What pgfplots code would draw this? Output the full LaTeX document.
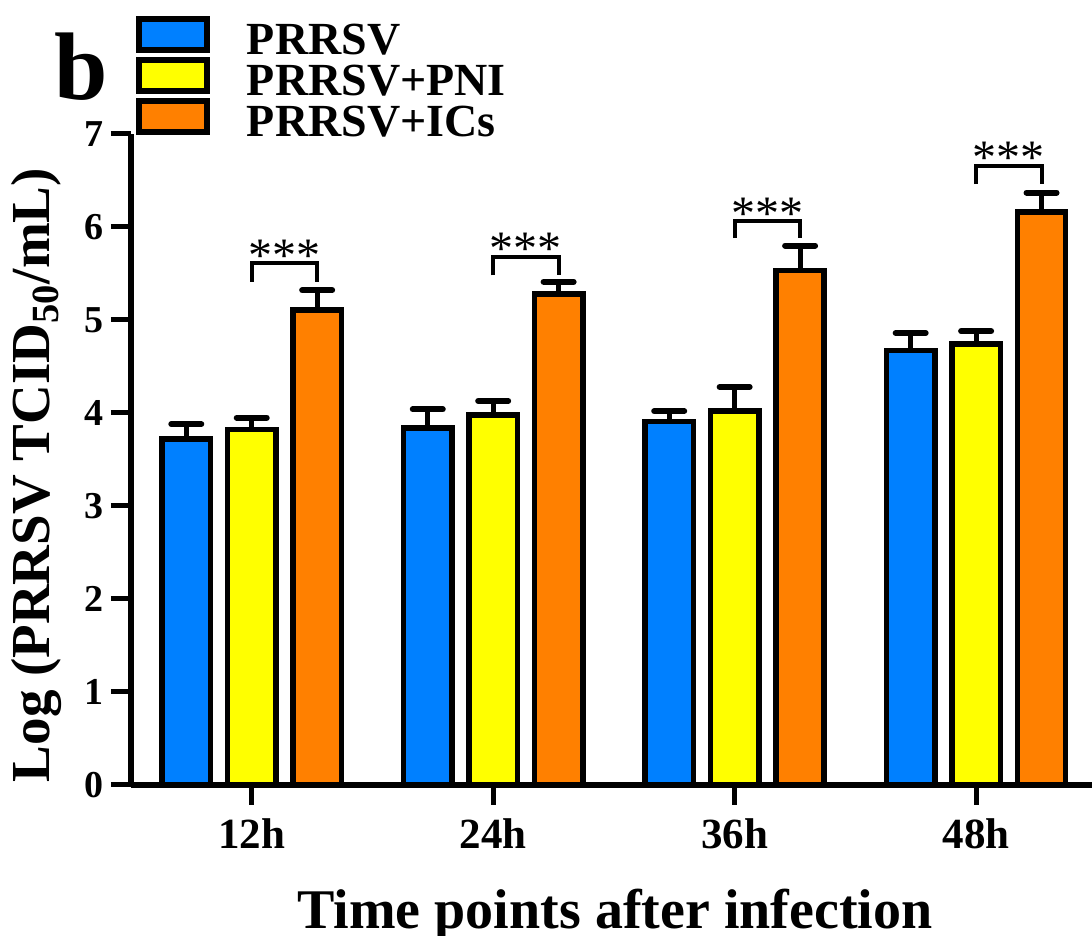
\documentclass[border=0pt]{standalone}
\usepackage{fontspec}
\setmainfont{Liberation Serif}
\usepackage{pgfplots}
\pgfplotsset{compat=1.18}
\definecolor{cblue}{RGB}{0,128,255}
\definecolor{cyellow}{RGB}{255,255,0}
\definecolor{corange}{RGB}{255,128,0}
\pgfplotsset{
  mybar/.style={ybar, bar width=0.2, bar shift=0, draw=black, line width=2.75pt,
    error bars/.cd, y dir=plus, y explicit,
    error bar style={line width=2.5pt, black},
    error mark options={rotate=90, line width=3pt, mark size=7.5pt, black, line cap=round}},
}
\begin{document}
\begin{tikzpicture}
\useasboundingbox (-65.5pt,-75.5pt) rectangle (480.5pt,392.5pt);
\begin{axis}[
  scale only axis, width=480.5pt, height=325.5pt,
  xmin=-0.5, xmax=3.48, ymin=0, ymax=7,
  axis x line*=bottom, axis y line*=left,
  axis line style={line width=3pt, black},
  clip=false,
  xtick={0,1,2,3}, xticklabels={12h,24h,36h,48h},
  ytick={0,1,...,7},
  tick align=outside, major tick length=10pt,
  tick style={line width=2.5pt, black},
  /pgf/number format/assume math mode=true,
  yticklabel style={font=\fontsize{19}{19}\selectfont\bfseries, anchor=east, inner sep=0pt, xshift=-3.5pt},
  xticklabel style={font=\fontsize{21.5}{21.5}\selectfont\bfseries, anchor=base, inner sep=0pt, yshift=-21.5pt},
  ylabel={Log (PRRSV TCID\textsubscript{50}/mL)},
  ylabel style={at={(axis description cs:-0.0843,0.476)}, anchor=base, font=\fontsize{27.5}{27.5}\selectfont\bfseries},
  xlabel={Time points after infection},
  xlabel style={at={(axis description cs:0.5036,0)}, anchor=base, yshift=-71.5pt, font=\fontsize{28}{28}\selectfont\bfseries},
  legend cell align=left,
  legend image code/.code={\draw[#1, line width=3pt] (0pt,-7.75pt) rectangle (34pt,7.75pt);},
  legend style={at={(rel axis cs:0.0052,1.1843)}, anchor=north west, draw=none, fill=none,
    inner sep=0pt, outer sep=0pt, row sep=0pt,
    font=\fontsize{23}{23}\selectfont\bfseries,
    nodes={inner sep=0pt, outer sep=0pt, text height=20pt, text depth=0.5pt},
    /tikz/every odd column/.append style={column sep=18.5pt}},
]
\addplot[fill=cblue, mybar]
  coordinates {(-0.271,3.72) +- (0,0.16) (0.729,3.84) +- (0,0.20) (1.729,3.91) +- (0,0.11) (2.729,4.67) +- (0,0.19)};
\addlegendentry{PRRSV}
\addplot[fill=cyellow, mybar]
  coordinates {(0,3.82) +- (0,0.13) (1,3.98) +- (0,0.15) (2,4.02) +- (0,0.26) (3,4.74) +- (0,0.14)};
\addlegendentry{PRRSV+PNI}
\addplot[fill=corange, mybar]
  coordinates {(0.271,5.11) +- (0,0.21) (1.271,5.28) +- (0,0.13) (2.271,5.53) +- (0,0.27) (3.271,6.16) +- (0,0.21)};
\addlegendentry{PRRSV+ICs}
% significance brackets
\addplot[sharp plot, line width=2pt, black, forget plot] coordinates {(0,5.41) (0,5.61) (0.271,5.61) (0.271,5.41)};
\addplot[sharp plot, line width=2pt, black, forget plot] coordinates {(1,5.48) (1,5.68) (1.271,5.68) (1.271,5.48)};
\addplot[sharp plot, line width=2pt, black, forget plot] coordinates {(2,5.88) (2,6.06) (2.271,6.06) (2.271,5.88)};
\addplot[sharp plot, line width=2pt, black, forget plot] coordinates {(3,6.46) (3,6.66) (3.271,6.66) (3.271,6.46)};
\node[anchor=base, inner sep=0pt, font=\fontsize{24}{24}\selectfont, yshift=-4pt] at (axis cs:0.1355,5.61) {***};
\node[anchor=base, inner sep=0pt, font=\fontsize{24}{24}\selectfont, yshift=-4pt] at (axis cs:1.1355,5.68) {***};
\node[anchor=base, inner sep=0pt, font=\fontsize{24}{24}\selectfont, yshift=-4pt] at (axis cs:2.1355,6.06) {***};
\node[anchor=base, inner sep=0pt, font=\fontsize{24}{24}\selectfont, yshift=-4pt] at (axis cs:3.1355,6.66) {***};
\end{axis}
\node[anchor=base west, inner sep=0pt, font=\fontsize{48}{48}\selectfont\bfseries] at (-38.5pt,342.5pt) {b};
\end{tikzpicture}
\end{document}
